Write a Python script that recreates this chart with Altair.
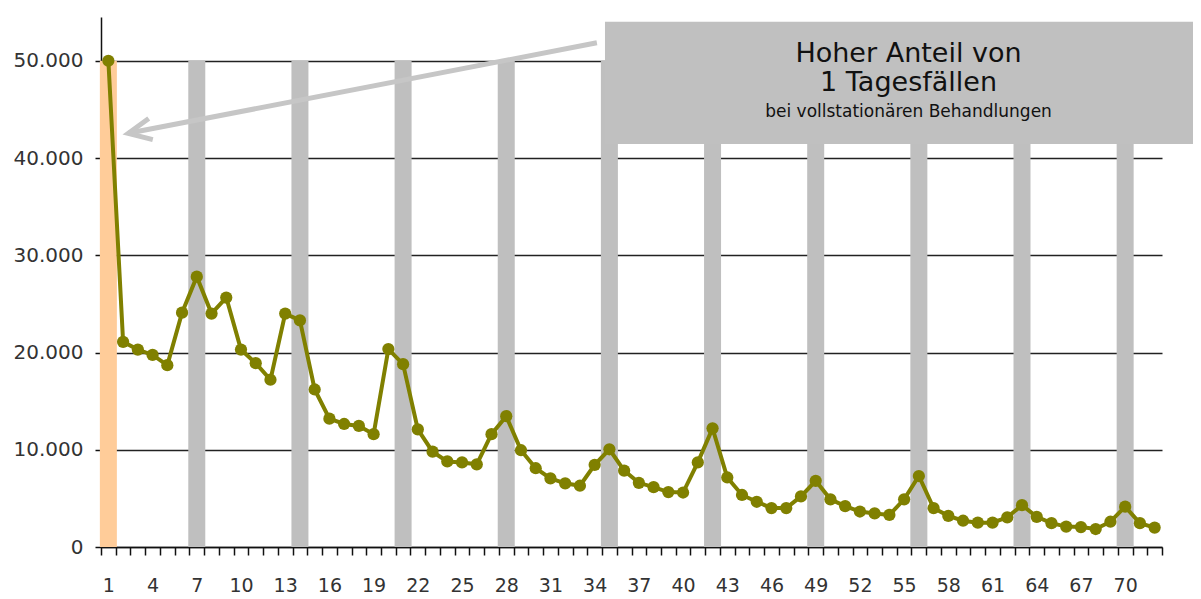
import altair as alt
import pandas as pd

# Length of stay (days) and number of cases
days = list(range(1, 73))
cases = [
    50000, 21100, 20300, 19750, 18700, 24100, 27800, 24000, 25650, 20300,
    18900, 17200, 24000, 23300, 16200, 13200, 12650, 12450, 11600, 20350,
    18800, 12100, 9800, 8800, 8700, 8500, 11600, 13450, 9950, 8100,
    7050, 6550, 6300, 8450, 10050, 7850, 6600, 6150, 5650, 5600,
    8700, 12200, 7150, 5350, 4650, 4000, 4000, 5200, 6800, 4900,
    4200, 3650, 3450, 3300, 4900, 7300, 4000, 3200, 2700, 2500,
    2500, 3050, 4300, 3100, 2450, 2100, 2050, 1850, 2600, 4150,
    2450, 2000,
]
week_days = [7, 14, 21, 28, 35, 42, 49, 56, 63, 70]
week_height = [50000] * len(week_days)
first_day = [1]
first_height = [50000]

y_ticks = [0, 10000, 20000, 30000, 40000, 50000]
x_tick_edges = [d - 0.5 for d in range(1, 74)]

title_lines = [["Hoher Anteil von", "1 Tagesfällen"]]
title_x = [55.3]
title_y = [49900]
sub_lines = ["bei vollstationären Behandlungen"]
sub_x = [55.3]
sub_y = [44250]

box_x = [34.7]
box_x2 = [75.15]
box_y = [41440]
box_y2 = [54015]

arrow_from_x = [34.15]
arrow_from_y = [51850]
arrow_to_x = [2.35]
arrow_to_y = [42540]

OLIVE = "#808000"
xscale = alt.Scale(domain=[0.5, 72.5], nice=False, zero=False, padding=0)
yscale = alt.Scale(domain=[0, 54500], nice=False, padding=0)

df = pd.DataFrame({"day": days, "cases": cases})
df_week = pd.DataFrame({"day": week_days, "h": week_height})
df_first = pd.DataFrame({"day": first_day, "h": first_height})
df_box = pd.DataFrame({"x": box_x, "x2": box_x2, "y": box_y, "y2": box_y2})
df_arrow = pd.DataFrame({"x": arrow_from_x, "y": arrow_from_y,
                         "x2": arrow_to_x, "y2": arrow_to_y})
df_tip = pd.DataFrame({"x": arrow_to_x, "y": arrow_to_y})
df_title = pd.DataFrame({"t": title_lines, "x": title_x, "y": title_y})
df_sub = pd.DataFrame({"t": sub_lines, "x": sub_x, "y": sub_y})

x_axis = alt.Axis(
    values=x_tick_edges, tickCount=200,
    labelExpr="((datum.value + 0.5) % 3 == 1 && datum.value < 71) ? format(datum.value + 0.5, 'd') : ''",
    labelOffset=7.37, labelOverlap=False, labelFlush=False,
    tickSize=8, tickColor="#111", tickWidth=1.5,
    domainColor="#111", domainWidth=1.5,
    labelFont="DejaVu Sans", labelFontSize=19, labelColor="#333",
    labelPadding=21, grid=False, title=None,
)
y_axis = alt.Axis(
    values=y_ticks, tickCount=20,
    labelExpr="replace(format(datum.value, ','), ',', '.')",
    tickSize=6, tickColor="#111", tickWidth=1.5,
    domainColor="#111", domainWidth=1.5,
    grid=True, gridColor="#222", gridWidth=1.5,
    labelFont="DejaVu Sans", labelFontSize=20, labelColor="#333",
    labelPadding=12, title=None,
)

bars_week = alt.Chart(df_week).mark_bar(size=17, color="#BFBFBF").encode(
    x=alt.X("day:Q", scale=xscale, axis=x_axis),
    y=alt.Y("h:Q", scale=yscale, axis=y_axis),
)
bar_first = alt.Chart(df_first).mark_bar(size=17, color="#FFCC99").encode(
    x=alt.X("day:Q", scale=xscale),
    y=alt.Y("h:Q", scale=yscale),
)
line = alt.Chart(df).mark_line(
    color=OLIVE, strokeWidth=4,
    point=alt.OverlayMarkDef(size=150, filled=True, color=OLIVE, opacity=1),
).encode(
    x=alt.X("day:Q", scale=xscale),
    y=alt.Y("cases:Q", scale=yscale),
)
box = alt.Chart(df_box).mark_rect(color="#C0C0C0").encode(
    x=alt.X("x:Q", scale=xscale), x2="x2:Q",
    y=alt.Y("y:Q", scale=yscale), y2="y2:Q",
)
arrow_line = alt.Chart(df_arrow).mark_rule(color="#C6C6C6", strokeWidth=5).encode(
    x=alt.X("x:Q", scale=xscale), x2="x2:Q",
    y=alt.Y("y:Q", scale=yscale), y2="y2:Q",
)
arrow_head = alt.Chart(df_tip).mark_point(
    shape="M 1 -0.47 L 0 0 L 1 0.47", size=2100, filled=False,
    stroke="#C6C6C6", strokeWidth=5, angle=349.1, opacity=1,
    strokeJoin="miter", strokeCap="butt",
).encode(
    x=alt.X("x:Q", scale=xscale),
    y=alt.Y("y:Q", scale=yscale),
)
title_txt = alt.Chart(df_title).mark_text(
    font="DejaVu Sans", fontSize=27, color="#111",
    align="center", baseline="alphabetic", lineHeight=29.5,
).encode(
    x=alt.X("x:Q", scale=xscale),
    y=alt.Y("y:Q", scale=yscale),
    text="t",
)
sub_txt = alt.Chart(df_sub).mark_text(
    font="DejaVu Sans", fontSize=17, color="#111",
    align="center", baseline="alphabetic",
).encode(
    x=alt.X("x:Q", scale=xscale),
    y=alt.Y("y:Q", scale=yscale),
    text="t:N",
)

chart = alt.layer(
    bars_week, bar_first, line, arrow_line, arrow_head, box, title_txt, sub_txt
).properties(
    width=1061, height=530,
    autosize=alt.AutoSizeParams(type="none"),
    padding={"left": 93, "top": 9, "right": 31, "bottom": 50},
).configure_view(stroke=None)

chart.save("out.html", embed_options={"renderer": "svg", "actions": False})
